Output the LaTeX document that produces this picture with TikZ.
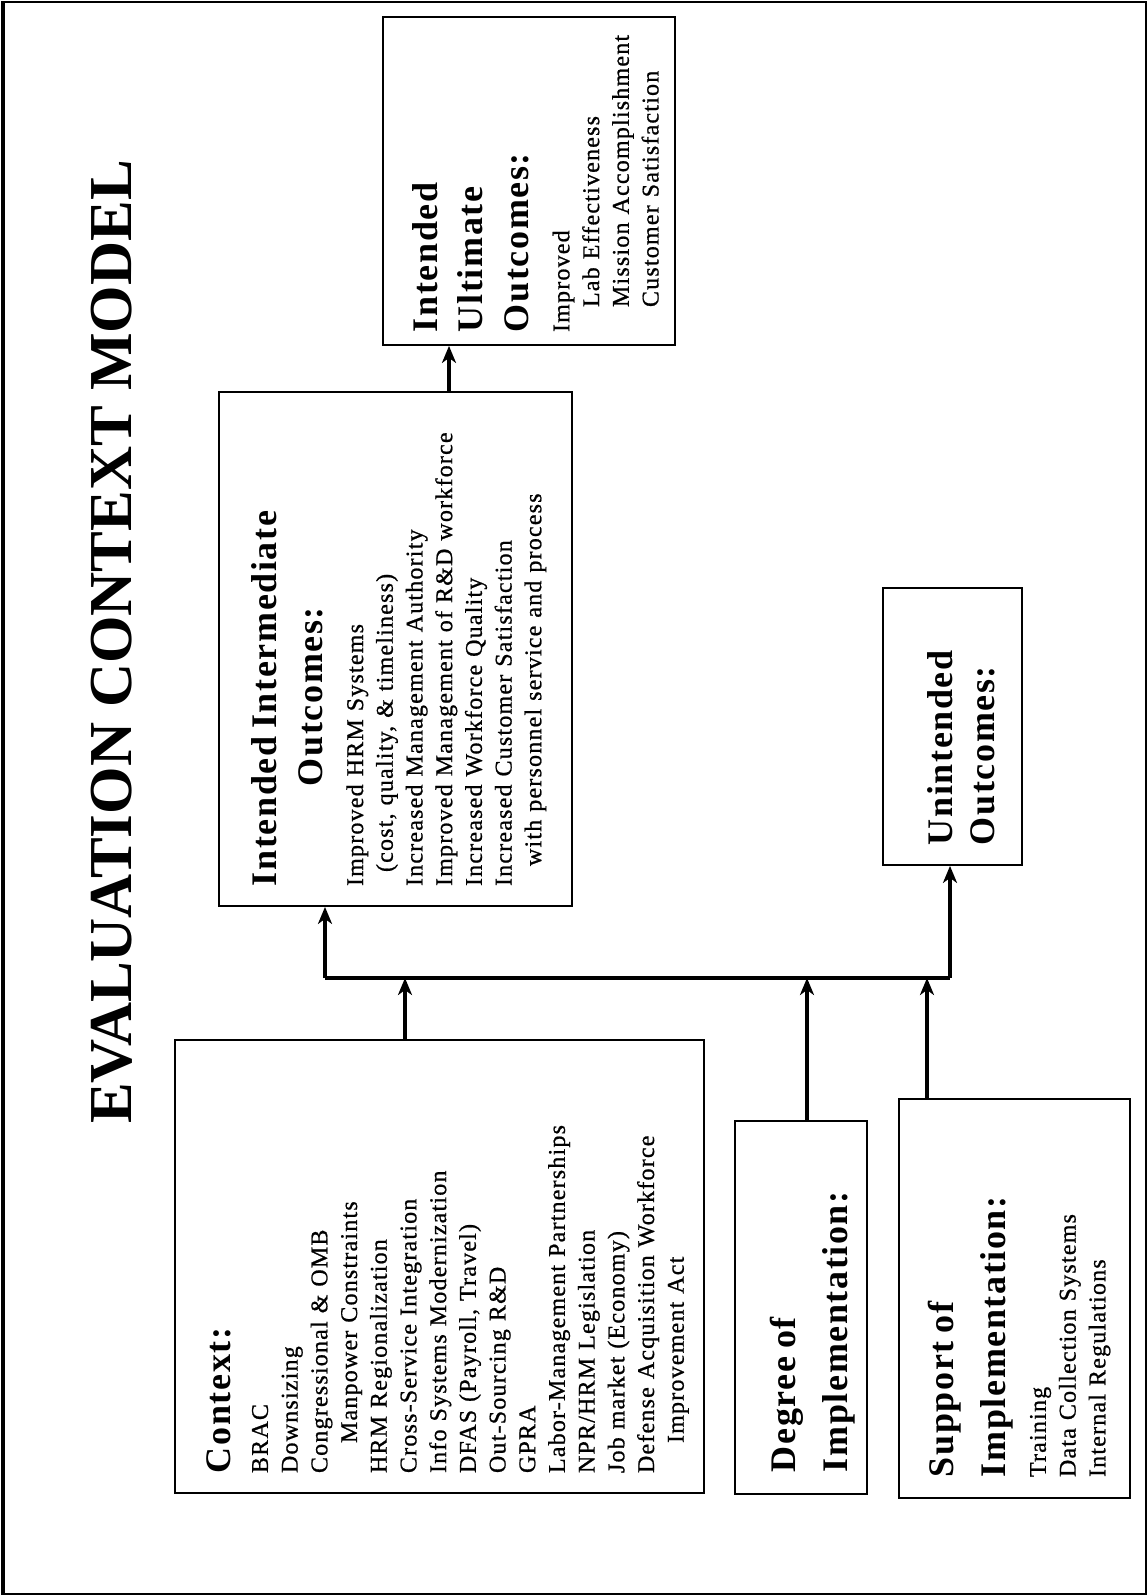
\documentclass[tikz,border=0pt]{standalone}
\usepackage{fontspec}
\setmainfont{Liberation Serif}
\newfontfamily\bodyfont[LetterSpace=5, FakeBold=0.8]{Liberation Serif}
\newfontfamily\headfont[LetterSpace=4.5]{Liberation Serif}
\usetikzlibrary{arrows.meta}

% header line inside a box
\newcommand{\hd}[1]{{\fontsize{36}{44}\selectfont\headfont\bfseries #1}}
% raises the first line so that the text block sits off centre
\newcommand{\topstrut}[1]{\rule{0pt}{#1}}

\begin{document}
\begin{tikzpicture}[x=1pt, y=-1pt, >={Stealth[length=17pt, width=14pt, inset=5pt]},
  box/.style={draw, line width=1.8pt, rotate=90, inner sep=0pt, align=left,
    font=\fontsize{24}{29.7}\selectfont\bodyfont},
  wire/.style={line width=3.5pt}]

\useasboundingbox (0,0) rectangle (1148,1596);

% Page frame
\draw[line width=2pt] (2,2) rectangle (1146,1594);
\draw[line width=4pt] (3,2) -- (3,1594);

% Title
\node[rotate=90, font=\fontsize{61}{70}\selectfont\bfseries] (title) at (112,642) {EVALUATION CONTEXT MODEL};

% Outcome boxes
\node[box, minimum width=328, minimum height=292, text width=302] (ult) at (529,181) {%
\hd{\topstrut{38pt}Intended}\\[16pt]
\hd{Ultimate}\\[16pt]
\hd{Outcomes:}\\[11pt]
Improved\\
\hspace*{25pt}Lab Effectiveness\\
\hspace*{25pt}Mission Accomplishment\\
\hspace*{25pt}Customer Satisfaction};

\node[box, minimum width=514, minimum height=353, text width=474] (inter) at (395.5,649) {%
\hd{\topstrut{32pt}Intended Intermediate}\\[16pt]
\hspace*{100pt}\hd{Outcomes:}\\[11pt]
Improved HRM Systems\\
\hspace*{14pt}(cost, quality, \& timeliness)\\
Increased Management Authority\\
Improved Management of R\&D workforce\\
Increased Workforce Quality\\
Increased Customer Satisfaction\\
\hspace*{20pt}with personnel service and process};

\node[box, minimum width=277, minimum height=139, text width=237] (unint) at (952.5,726.5) {%
\hd{\topstrut{43pt}Unintended}\\[12pt]
\hd{Outcomes:}};

% Input boxes
\node[box, minimum width=453, minimum height=529, text width=413] (ctx) at (439.5,1266.5) {%
\hd{\topstrut{40pt}Context:}\\[8pt]
BRAC\\
Downsizing\\
Congressional \& OMB\\
\hspace*{30pt}Manpower Constraints\\
HRM Regionalization\\
Cross-Service Integration\\
Info Systems Modernization\\
DFAS (Payroll, Travel)\\
Out-Sourcing R\&D\\
GPRA\\
Labor-Management Partnerships\\
NPR/HRM Legislation\\
Job market (Economy)\\
Defense Acquisition Workforce\\
\hspace*{30pt}Improvement Act};

\node[box, minimum width=373, minimum height=132, text width=329] (deg) at (801,1307.5) {%
\hd{\topstrut{49pt}Degree of}\\[18pt]
\hd{Implementation:}};

\node[box, minimum width=399, minimum height=231, text width=357] (sup) at (1014.5,1298.5) {%
\hd{\topstrut{35pt}Support of}\\[18pt]
\hd{Implementation:}\\[11pt]
Training\\
Data Collection Systems\\
Internal Regulations};

% Junctions of the connector bus
\coordinate (jl) at (325,978);
\coordinate (jr) at (950,978);
\coordinate (ca) at (405,978);
\coordinate (da) at (807,978);
\coordinate (sa) at (927,978);
\coordinate (ua) at (449,370);

% Connectors
\draw[wire] (jl) -- (jr);
\draw[wire,->] (jl) -- (jl |- inter.west);
\draw[wire,->] (jr) -- (jr |- unint.west);
\draw[wire,->] (ca |- ctx.east) -- (ca);
\draw[wire,->] (da |- deg.east) -- (da);
\draw[wire,->] (sa |- sup.east) -- (sa);
\draw[wire,->] (ua |- inter.east) -- (ua |- ult.west);

\end{tikzpicture}
\end{document}
